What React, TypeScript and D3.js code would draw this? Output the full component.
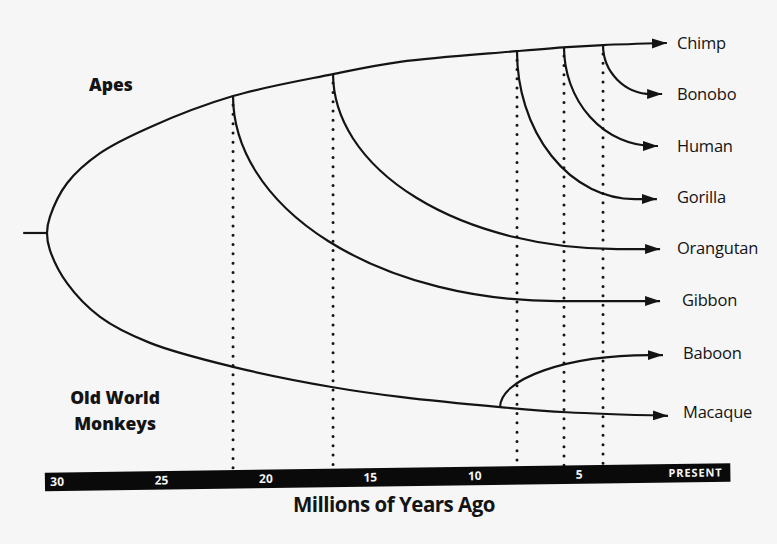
import { useEffect, useRef } from 'react';
import * as d3 from 'd3';

// taxa, top to bottom
const taxa = ['Chimp', 'Bonobo', 'Human', 'Gorilla', 'Orangutan', 'Gibbon', 'Baboon', 'Macaque'];
// lane of each arrow tip and of each label (0 = Chimp row)
const tipLane = [0, 1.0, 2.02, 3.06, 4.04, 5.06, 6.12, 7.31];
const labelLane = [0, 1.0, 2.02, 3.02, 4.02, 5.04, 6.08, 7.24];
// age (million years ago) where each arrow ends and where each label starts
const tipAge = [0.77, 1.0, 1.2, 1.25, 1.1, 1.1, 0.96, 0.72];
const labelAge = [0.29, 0.29, 0.29, 0.29, 0.29, 0.05, 0.0, 0.0];

// side branches: split age, lane of the node, bend (how far along the arc flattens)
const branchTaxa = ['Gibbon', 'Orangutan', 'Gorilla', 'Human', 'Bonobo', 'Baboon'];
const splitAge = [21.55, 16.76, 7.95, 5.7, 3.83, 8.76];
const nodeLane = [1.04, 0.61, 0.16, 0.08, 0.04, 7.14];
const bend = [0.76, 0.87, 0.84, 0.95, 0.82, 0.92];
// which splits get a dotted line down to the time bar
const dotted = ['Gibbon', 'Orangutan', 'Gorilla', 'Human', 'Bonobo'];

// the two main stems (age, lane), both starting at the root
const rootAge = 31.6;
const apeStem: [number, number][] = [
  [30.46, 3.725], [30.32, 3.41], [29.5, 2.75], [27.92, 2.16], [25.53, 1.65], [21.55, 1.04],
  [16.76, 0.61], [13.55, 0.37], [7.95, 0.16], [5.56, 0.08], [3.83, 0.04], [0.77, 0]
];
const monkeyStem: [number, number][] = [
  [30.46, 3.725], [30.32, 4.06], [29.5, 4.71], [27.92, 5.37], [25.53, 5.88], [21.55, 6.35],
  [16.76, 6.75], [13.55, 6.94], [8.76, 7.14], [5.56, 7.24], [0.72, 7.31]
];

const tickValues = [30, 25, 20, 15, 10, 5, 0];

const W = 777;
const H = 544;
const INK = '#141414';
const FONT = '"Open Sans", sans-serif';

const App = (): JSX.Element => {
  const svgRef = useRef<SVGSVGElement>(null);

  useEffect(() => {
    document.body.style.margin = '0';
    if (svgRef.current) {
      svgRef.current.innerHTML = '';
    }

    const x = d3.scaleLinear([30, 0], [56.6, 683]);
    const y = d3.scaleLinear([0, 7], [43, 400]);

    const svg = d3.select(svgRef.current).attr('width', W).attr('height', H).attr('viewBox', [0, 0, W, H]);

    svg.append('rect').attr('width', W).attr('height', H).attr('fill', '#f6f6f6');

    const defs = svg.append('defs');
    defs
      .append('marker')
      .attr('id', 'arrow')
      .attr('markerUnits', 'userSpaceOnUse')
      .attr('markerWidth', 16)
      .attr('markerHeight', 12)
      .attr('refX', 15)
      .attr('refY', 6)
      .attr('orient', 'auto-start-reverse')
      .append('path')
      .attr('d', 'M0,1 L15,6 L0,11 Z')
      .attr('fill', INK);

    // dotted divergence lines
    const dots = svg.append('g');
    dotted.forEach((name) => {
      const i = branchTaxa.indexOf(name);
      dots
        .append('line')
        .attr('x1', x(splitAge[i]))
        .attr('x2', x(splitAge[i]))
        .attr('y1', y(nodeLane[i]) + 9)
        .attr('y2', 476)
        .attr('stroke', INK)
        .attr('stroke-width', 3)
        .attr('stroke-linecap', 'round')
        .attr('stroke-dasharray', '0 9.3');
    });

    const stemLine = d3
      .line<[number, number]>()
      .x((d) => x(d[0]))
      .y((d) => y(d[1]))
      .curve(d3.curveCatmullRom.alpha(0.5));

    const tree = svg.append('g').attr('fill', 'none').attr('stroke', INK).attr('stroke-width', 2.2);

    // root stub
    tree
      .append('line')
      .attr('x1', x(rootAge))
      .attr('x2', x(apeStem[0][0]))
      .attr('y1', y(apeStem[0][1]))
      .attr('y2', y(apeStem[0][1]));

    // one smooth path: Chimp tip -> root -> Macaque tip
    const stem = [...apeStem.slice().reverse(), ...monkeyStem.slice(1)];
    tree
      .append('path')
      .attr('d', stemLine(stem))
      .attr('marker-start', 'url(#arrow)')
      .attr('marker-end', 'url(#arrow)');

    // side branches: quarter ellipse from the node, then straight to the arrow
    branchTaxa.forEach((name, i) => {
      const t = taxa.indexOf(name);
      const nx = x(splitAge[i]);
      const ny = y(nodeLane[i]);
      const tx = x(tipAge[t]);
      const ty = y(tipLane[t]);
      const ex = nx + (tx - nx) * bend[i];
      const sweep = ty > ny ? 0 : 1;
      const d = `M${nx},${ny} A${ex - nx},${Math.abs(ty - ny)} 0 0 ${sweep} ${ex},${ty} L${tx},${ty}`;
      tree.append('path').attr('d', d).attr('marker-end', 'url(#arrow)');
    });

    // taxon labels
    svg
      .append('g')
      .attr('font-family', FONT)
      .attr('font-size', 16.5)
      .attr('fill', INK)
      .selectAll('text')
      .data(taxa)
      .join('text')
      .attr('x', (_, i) => x(labelAge[i]))
      .attr('y', (_, i) => y(labelLane[i]))
      .attr('dy', '0.35em')
      .attr('letter-spacing', -0.2)
      .text((d) => d);

    // group labels
    const groups = svg
      .append('g')
      .attr('font-family', FONT)
      .attr('font-weight', 800)
      .attr('fill', INK)
      .attr('text-anchor', 'middle');
    groups.append('text').attr('x', x(27.4)).attr('y', y(0.82)).attr('dy', '0.35em').attr('font-size', 17.5).text('Apes');
    groups.append('text').attr('x', x(27.2)).attr('y', y(6.95)).attr('dy', '0.35em').attr('font-size', 17.5).text('Old World');
    groups.append('text').attr('x', x(27.2)).attr('y', y(7.46)).attr('dy', '0.35em').attr('font-size', 17.5).text('Monkeys');

    // time bar
    const bar = svg.append('g').attr('transform', 'rotate(-0.8 387.5 477)');
    bar
      .append('rect')
      .attr('x', x(30.56))
      .attr('y', 468)
      .attr('width', x(-2.27) - x(30.56))
      .attr('height', 18.5)
      .attr('fill', '#0a0a0a');

    const axis = d3
      .axisBottom(x)
      .tickValues(tickValues)
      .tickSize(0)
      .tickFormat((d) => (d === 0 ? 'PRESENT' : String(d)));
    const ax = bar.append('g').attr('transform', 'translate(0,477)').call(axis);
    ax.select('.domain').remove();
    ax.selectAll('text')
      .attr('y', 0)
      .attr('dy', '0.36em')
      .attr('fill', '#f4f4f4')
      .attr('font-family', FONT)
      .attr('font-weight', 700)
      .attr('font-size', (d) => (d === 0 ? 11 : 12))
      .attr('letter-spacing', (d) => (d === 0 ? 0.9 : 0))
      .attr('dx', (d) => (d === 0 ? 12 : 0));

    svg
      .append('text')
      .attr('x', 394)
      .attr('y', 505)
      .attr('dy', '0.35em')
      .attr('text-anchor', 'middle')
      .attr('font-family', FONT)
      .attr('font-weight', 700)
      .attr('font-size', 20.5)
      .attr('letter-spacing', -0.5)
      .attr('fill', INK)
      .text('Millions of Years Ago');
  }, []);

  return (
    <div>
      <svg ref={svgRef} style={{ display: 'block' }} />
    </div>
  );
};

export default App;
